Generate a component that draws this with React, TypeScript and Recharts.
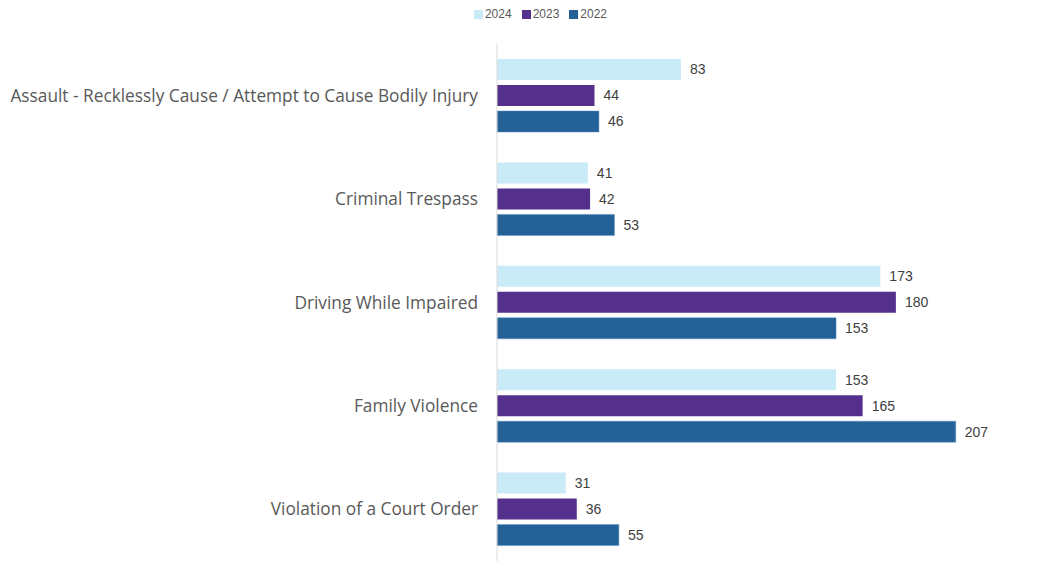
import { BarChart, Bar, XAxis, YAxis, Legend, LabelList } from 'recharts';

const categories = [
  'Assault - Recklessly Cause / Attempt to Cause Bodily Injury',
  'Criminal Trespass',
  'Driving While Impaired',
  'Family Violence',
  'Violation of a Court Order',
];
const values2024 = [83, 41, 173, 153, 31];
const values2023 = [44, 42, 180, 165, 36];
const values2022 = [46, 53, 153, 207, 55];

const data = categories.map((name, i) => ({
  name,
  y2024: values2024[i],
  y2023: values2023[i],
  y2022: values2022[i],
}));

const labelStyle = { fontSize: 14, fill: '#404040', fontFamily: 'Liberation Sans, Arial, sans-serif' };

// small legend so the spacing matches the original
function LegendContent({ payload }: any) {
  const items = [...(payload || [])].sort((a: any, b: any) => Number(b.value) - Number(a.value));
  return (
    <div style={{ display: 'flex', justifyContent: 'center', fontSize: 12, fontFamily: 'Liberation Sans, Arial, sans-serif', color: '#595959' }}>
      {items.map((it: any) => (
        <div key={it.value} style={{ display: 'flex', alignItems: 'center', marginRight: 10 }}>
          <span style={{ width: 9, height: 9, background: it.color, marginRight: 2, display: 'inline-block' }} />
          <span>{it.value}</span>
        </div>
      ))}
    </div>
  );
}

export default function App() {
  return (
    <div style={{ margin: -8, width: 1055, height: 572, position: 'relative', background: '#fff' }}>
      <div style={{ position: 'absolute', left: 0, top: 0, width: 2, height: 572, background: '#a3a3c2' }} />
      <BarChart
        width={1055}
        height={572}
        data={data}
        layout="vertical"
        margin={{ top: 30, right: 4, bottom: 11, left: 0 }}
        barGap={5}
        barSize={21}
      >
        <XAxis type="number" hide domain={[0, 250]} />
        <YAxis
          type="category"
          dataKey="name"
          width={497}
          tickSize={0}
          tickMargin={19}
          axisLine={{ stroke: '#d9d9d9' }}
          tickLine={false}
          tick={{ fontSize: 17.3, fill: '#595959', fontFamily: 'Open Sans, sans-serif' }}
        />
        <Legend
          verticalAlign="top"
          align="center"
          content={<LegendContent />}
          wrapperStyle={{ top: 7, left: 20, height: 14 }}
        />
        <Bar dataKey="y2024" name="2024" fill="#c9eaf7" isAnimationActive={false}>
          <LabelList dataKey="y2024" position="right" offset={9} style={labelStyle} />
        </Bar>
        <Bar dataKey="y2023" name="2023" fill="#54308c" isAnimationActive={false}>
          <LabelList dataKey="y2023" position="right" offset={9} style={labelStyle} />
        </Bar>
        <Bar dataKey="y2022" name="2022" fill="#236197" stroke="#5b8fc4" strokeWidth={0.5} isAnimationActive={false}>
          <LabelList dataKey="y2022" position="right" offset={9} style={labelStyle} />
        </Bar>
      </BarChart>
    </div>
  );
}
